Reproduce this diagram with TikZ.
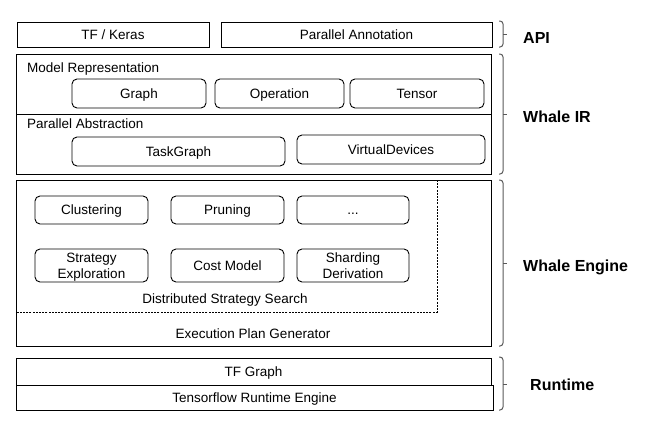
\documentclass[tikz,border=0pt]{standalone}
\usepackage{fontspec}
\setmainfont{Liberation Sans}
\tikzset{
  layer/.style={draw, line width=0.9pt, rectangle, inner sep=0pt},
  comp/.style={draw, line width=0.9pt, rounded corners=5pt, inner sep=0pt, align=center,
    text height=9.7pt, text depth=0pt, font=\fontsize{13.5}{15.5}\selectfont},
  twoline/.style={text height=25.2pt, text depth=0pt},
  txt/.style={inner sep=0pt, text height=9.7pt, text depth=0pt,
    font=\fontsize{13.5}{15.5}\selectfont},
  tag/.style={inner sep=0pt, anchor=west, text height=11.5pt, text depth=0pt,
    font=\fontsize{16}{18}\selectfont\bfseries},
  bracket/.style={draw=black!65, line width=1pt, rounded corners=3pt}
}
\begin{document}
\begin{tikzpicture}[x=1pt,y=-1pt]
\useasboundingbox (0,0) rectangle (655,434);

% API
\node[layer, minimum width=192, minimum height=25] (keras) at (113,34.5) {};
\node[txt] (kerastxt) at (keras) {TF / Keras};
\node[layer, minimum width=271, minimum height=25] (annot) at (356.5,34.5) {};
\node[txt] (annottxt) at (annot) {Parallel Annotation};

% Whale IR
\draw[line width=0.9pt] (16,54) rectangle (491,174);
\draw[line width=0.9pt] (16,114) -- (491,114);
\node[txt, anchor=west] (modelrep) at (27,68) {Model Representation};
\node[comp, minimum width=134, minimum height=29] (graph) at (139,93.5) {Graph};
\node[comp, minimum width=129, minimum height=29] (operation) at (279.5,93.5) {Operation};
\node[comp, minimum width=134, minimum height=29] (tensor) at (417,93.5) {Tensor};
\node[txt, anchor=west] (parabs) at (27,124) {Parallel Abstraction};
\node[comp, minimum width=213, minimum height=29] (taskgraph) at (178.5,151.5) {TaskGraph};
\node[comp, minimum width=188, minimum height=29] (vdevices) at (391,149.5) {VirtualDevices};

% Whale Engine
\draw[line width=0.9pt] (16,180) rectangle (491,346);
\draw[line width=0.8pt, dash pattern=on 2pt off 1.2pt] (437,180) -- (437,312) -- (16,312);
\node[comp, minimum width=113, minimum height=28] (cluster) at (91.5,210) {Clustering};
\node[comp, minimum width=113, minimum height=28] (pruning) at (227.5,210) {Pruning};
\node[comp, minimum width=112, minimum height=28] (more) at (353,210) {...};
\node[comp, twoline, minimum width=113, minimum height=33] (explore) at (91.5,265.5) {Strategy\\Exploration};
\node[comp, minimum width=113, minimum height=33] (cost) at (227.5,265.5) {Cost Model};
\node[comp, twoline, minimum width=112, minimum height=33] (shard) at (353,265.5) {Sharding\\Derivation};
\node[txt] (search) at (225,299) {Distributed Strategy Search};
\node[txt] (planner) at (253,334) {Execution Plan Generator};

% Runtime
\node[layer, minimum width=475, minimum height=27] (tfgraph) at (253.5,371.5) {};
\node[txt] (tfgraphtxt) at (tfgraph) {TF Graph};
\node[layer, minimum width=477, minimum height=25] (tfrun) at (254.5,397.5) {};
\node[txt] (tfruntxt) at (tfrun) {Tensorflow Runtime Engine};

% brackets and layer names
\draw[bracket] (499,21) -- (503,21) -- (503,47) -- (499,47);
\draw[bracket] (503,34) -- (507,34);
\node[tag] (api) at (523,37.5) {API};
\draw[bracket] (499,54) -- (503,54) -- (503,174) -- (499,174);
\draw[bracket] (503,114) -- (507,114);
\node[tag] (ir) at (523,117) {Whale IR};
\draw[bracket] (499,180) -- (503,180) -- (503,346) -- (499,346);
\draw[bracket] (503,263) -- (507,263);
\node[tag] (engine) at (523,266) {Whale Engine};
\draw[bracket] (499,357) -- (503,357) -- (503,410) -- (499,410);
\draw[bracket] (503,384) -- (507,384);
\node[tag] (runtime) at (530,385) {Runtime};
\end{tikzpicture}
\end{document}
